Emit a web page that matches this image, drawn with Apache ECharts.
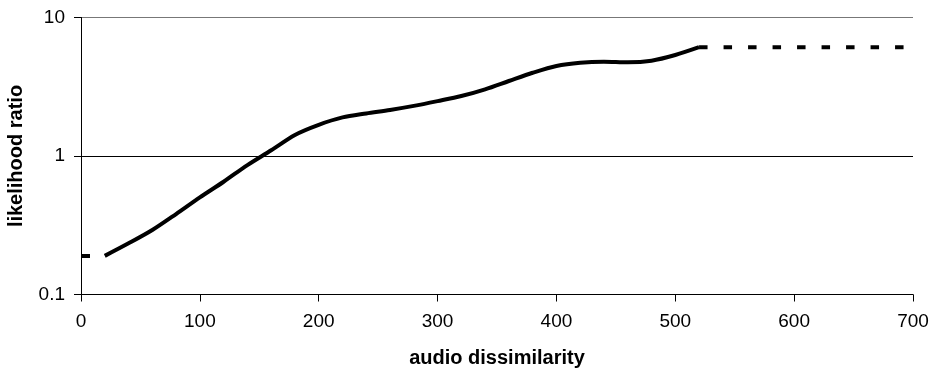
<!DOCTYPE html>
<html>
<head>
<meta charset="utf-8">
<script src="https://cdn.jsdelivr.net/npm/echarts@6/dist/echarts.min.js"></script>
<style>
  html, body { margin: 0; padding: 0; background: #fff; }
  #main { width: 930px; height: 371px; }
</style>
</head>
<body>
<div id="main"></div>
<script>
// values
var dissimilarity = [20, 40, 60, 80, 100, 120, 140, 160, 180, 200, 220, 240, 260, 280, 300,
  320, 340, 360, 380, 400, 420, 440, 460, 480, 500, 520];
var ratio = [0.19, 0.234, 0.292, 0.381, 0.503, 0.652, 0.86, 1.10, 1.42, 1.68, 1.90, 2.03, 2.15, 2.30, 2.49,
  2.71, 3.03, 3.48, 3.99, 4.47, 4.72, 4.80, 4.75, 4.88, 5.36, 6.10];
var lowX = [0, 20];
var lowY = [0.19, 0.19];
var highX = [520, 700];
var highY = [6.10, 6.10];
var xTicks = [0, 100, 200, 300, 400, 500, 600, 700];

function pairs(xs, ys) {
  var out = [];
  for (let i = 0; i < xs.length; i++) out.push([xs[i], ys[i]]);
  return out;
}

var myChart = echarts.init(document.getElementById('main'));

var font = 'Arial, "Liberation Sans", sans-serif';

var option = {
  animation: false,
  backgroundColor: '#fff',
  grid: { left: 81, right: 17, top: 17.5, bottom: 76.5, containLabel: false, outerBoundsMode: 'none' },
  xAxis: {
    type: 'value',
    min: xTicks[0],
    max: xTicks[xTicks.length - 1],
    interval: 100,
    name: 'audio dissimilarity',
    nameLocation: 'middle',
    nameGap: 54,
    nameTextStyle: { fontFamily: font, fontSize: 20, fontWeight: 'bold', color: '#000' },
    axisLine: { lineStyle: { color: '#000', width: 1 } },
    axisTick: { show: true, length: 7, lineStyle: { color: '#000' } },
    axisLabel: { fontFamily: font, fontSize: 19, color: '#000', margin: 18 },
    splitLine: { show: false }
  },
  yAxis: {
    type: 'log',
    logBase: 10,
    min: 0.1,
    max: 10,
    name: 'likelihood ratio',
    nameLocation: 'middle',
    nameGap: 55,
    nameTextStyle: { fontFamily: font, fontSize: 20, fontWeight: 'bold', color: '#000' },
    axisLine: { show: true, lineStyle: { color: '#000', width: 1 } },
    axisTick: { show: true, length: 7, lineStyle: { color: '#000' } },
    axisLabel: {
      fontFamily: font, fontSize: 19, color: '#000', margin: 16,
      formatter: function (v) { return String(+v.toPrecision(3)); }
    },
    splitLine: { show: true, lineStyle: { color: ['#000', '#000', '#777'], width: 1 } }
  },
  series: [
    {
      type: 'line',
      data: pairs(lowX, lowY),
      symbol: 'none',
      lineStyle: { color: '#000', width: 4, type: [9, 15], cap: 'butt' }
    },
    {
      type: 'line',
      data: pairs(dissimilarity, ratio),
      symbol: 'none',
      smooth: 0.3,
      lineStyle: { color: '#000', width: 4 }
    },
    {
      type: 'line',
      data: pairs(highX, highY),
      symbol: 'none',
      lineStyle: { color: '#000', width: 4, type: [8.5, 16], cap: 'butt' }
    }
  ]
};

myChart.setOption(option);
</script>
</body>
</html>
